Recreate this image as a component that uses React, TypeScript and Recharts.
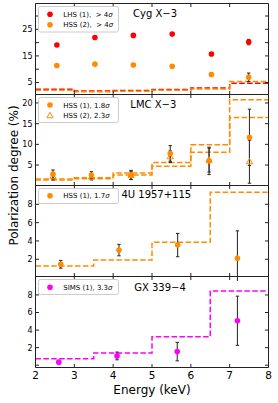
import React from 'react';
import { ComposedChart, Line, Scatter, ErrorBar, XAxis, YAxis } from 'recharts';

const FONT = "'DejaVu Sans', sans-serif";
const RED = '#ff0000';
const ORANGE = '#ff8c00';
const MAGENTA = '#ff00ff';
const ERR = '#333333';
const AXIS = '#222222';

const energyTicks = [2, 3, 4, 5, 6, 7, 8];
const binEdges6 = [2, 3, 4, 5, 6, 7, 8];
const binEdges4 = [2, 3.5, 5, 6.5, 8];

// Cyg X-3
const cygEnergy = [2.55, 3.53, 4.52, 5.52, 6.53, 7.49];
const cygLhsPd = [19.1, 21.9, 22.7, 23.2, 15.7, 20.2];
const cygLhsErr = [0.4, 0.4, 0.4, 0.4, 0.5, 1.0];
const cygHssPd = [11.4, 11.9, 11.6, 11.1, 8.0, 6.95];
const cygHssErr = [0.4, 0.4, 0.4, 0.4, 0.7, 1.6];
const cygLhsMdp = [2.5, 1.8, 2.0, 2.4, 2.9, 4.7];
const cygHssMdp = [2.1, 1.5, 1.7, 2.1, 2.6, 5.4];

// LMC X-3
const lmcEnergy = [2.45, 3.44, 4.46, 5.47, 6.47, 7.51];
const lmcHss1Pd = [2.8, 2.6, 2.6, 7.8, 6.0, 11.7];
const lmcHss1Err = [1.0, 0.8, 1.1, 1.9, 3.3, 6.8];
const lmcHss2Pd = [2.2, 2.1, 2.5, 7.0, 6.2, 5.8];
const lmcHss2Err = [0.8, 0.7, 1.0, 1.4, 2.9, 5.2];
const lmcHss1Mdp = [1.6, 1.9, 3.1, 5.6, 9.9, 20.8];
const lmcHss2Mdp = [1.4, 1.7, 2.6, 4.7, 8.1, 16.5];

// 4U 1957+115
const u4Energy = [2.65, 4.15, 5.66, 7.2];
const u4Pd = [1.45, 3.0, 3.55, 2.1];
const u4Err = [0.42, 0.62, 1.27, 3.0];
const u4Mdp = [1.27, 1.92, 3.85, 9.3];

// GX 339-4
const gxEnergy = [2.6, 4.1, 5.65, 7.2];
const gxPd = [0.35, 1.06, 1.55, 5.06];
const gxErr = [0.2, 0.44, 1.05, 2.8];
const gxMdp = [0.75, 1.4, 3.25, 8.45];

const titles = ['Cyg X−3', 'LMC X−3', '4U 1957+115', 'GX 339−4'];

const points = (e: number[], pd: number[], err: number[]) =>
  e.map((x, i) => ({ e: x, pd: pd[i], err: err[i] }));
const steps = (edges: number[], mdp: number[]) =>
  edges.map((x, i) => ({ e: x, mdp: mdp[Math.min(i, mdp.length - 1)] }));

const TM = 3; // tick margin
const TL = 3.5; // tick length

const makeLeftTick = (labels: number[]) => (p: any) => {
  const ax = p.x + TM;
  const v = p.payload.value;
  return (
    <g>
      <line x1={ax} x2={ax + TL} y1={p.y} y2={p.y} stroke={AXIS} strokeWidth={1} />
      {labels.includes(v) && (
        <text x={p.x} y={p.y} dy={2.9} textAnchor="end" fontSize={8} fontFamily={FONT} fill="#000">
          {v}
        </text>
      )}
    </g>
  );
};
const RightTick = (p: any) => {
  const ax = p.x - TM;
  return <line x1={ax - TL} x2={ax} y1={p.y} y2={p.y} stroke={AXIS} strokeWidth={1} />;
};
const TopTick = (p: any) => {
  const ay = p.y + TM;
  return <line x1={p.x} x2={p.x} y1={ay} y2={ay + TL} stroke={AXIS} strokeWidth={1} />;
};
const makeBottomTick = (showLabel: boolean) => (p: any) => {
  const ay = p.y - TM;
  return (
    <g>
      <line x1={p.x} x2={p.x} y1={ay} y2={ay - TL} stroke={AXIS} strokeWidth={1} />
      {showLabel && (
        <text x={p.x} y={ay + 11.5} textAnchor="middle" fontSize={10.5} fontFamily={FONT} fill="#000">
          {p.payload.value}
        </text>
      )}
    </g>
  );
};

const dotShape = (color: string) => (p: any) =>
  <circle cx={p.cx} cy={p.cy} r={2.8} fill={color} />;
const triShape = (color: string) => (p: any) => (
  <polygon
    points={`${p.cx},${p.cy - 3.4} ${p.cx - 3.1},${p.cy + 2.1} ${p.cx + 3.1},${p.cy + 2.1}`}
    fill="none"
    stroke={color}
    strokeWidth={1}
  />
);

const stepLine = (data: any[], color: string, key: string) => (
  <Line
    key={key}
    data={data}
    dataKey="mdp"
    type="stepAfter"
    stroke={color}
    strokeWidth={1.5}
    strokeDasharray="5.5 2.4"
    dot={false}
    activeDot={false}
    isAnimationActive={false}
  />
);

const scatter = (data: any[], shape: any, key: string) => (
  <Scatter key={key} data={data} dataKey="pd" shape={shape} isAnimationActive={false}>
    <ErrorBar dataKey="err" direction="y" stroke={ERR} strokeWidth={1.1} width={1.7} />
  </Scatter>
);

function Panel(props: {
  top: number;
  height: number;
  bottom: number;
  yDomain: [number, number];
  yTicks: number[];
  yLabels: number[];
  showX: boolean;
  children: React.ReactNode;
}) {
  const { top, height, bottom, yDomain, yTicks, yLabels, showX, children } = props;
  return (
    <div style={{ position: 'absolute', left: 0, top }}>
      <ComposedChart width={278} height={height} margin={{ top: 2.5, right: 8.5, bottom: bottom - 1, left: 0 }}>
        <XAxis
          type="number"
          dataKey="e"
          domain={[2, 8]}
          ticks={energyTicks}
          interval={0}
          allowDataOverflow
          height={1}
          tickSize={0}
          tickMargin={TM}
          tickLine={false}
          axisLine={{ stroke: AXIS, strokeWidth: 1 }}
          tick={makeBottomTick(showX)}
        />
        <XAxis
          xAxisId="t"
          orientation="top"
          type="number"
          dataKey="e"
          domain={[2, 8]}
          ticks={energyTicks}
          interval={0}
          allowDataOverflow
          height={1}
          tickSize={0}
          tickMargin={TM}
          tickLine={false}
          axisLine={{ stroke: AXIS, strokeWidth: 1 }}
          tick={TopTick}
        />
        <YAxis
          type="number"
          domain={yDomain}
          ticks={yTicks}
          interval={0}
          allowDataOverflow
          width={35.5}
          tickSize={0}
          tickMargin={TM}
          tickLine={false}
          axisLine={{ stroke: AXIS, strokeWidth: 1 }}
          tick={makeLeftTick(yLabels)}
        />
        <YAxis
          yAxisId="r"
          orientation="right"
          type="number"
          domain={yDomain}
          ticks={yTicks}
          interval={0}
          allowDataOverflow
          width={1}
          tickSize={0}
          tickMargin={TM}
          tickLine={false}
          axisLine={{ stroke: AXIS, strokeWidth: 1 }}
          tick={RightTick}
        />
        {children}
      </ComposedChart>
    </div>
  );
}

type LegendItem = { label: string; color: string; marker: 'circle' | 'triangle' };

function LegendBox({ y, h, items, rows }: { y: number; h: number; items: LegendItem[]; rows: number[] }) {
  return (
    <g>
      <rect x={38.5} y={y} width={80} height={h} rx={2} fill="#fff" fillOpacity={0.8} stroke="#cccccc" strokeWidth={1} />
      {items.map((it, i) => (
        <g key={i}>
          {it.marker === 'circle' ? (
            <circle cx={50} cy={rows[i]} r={2.8} fill={it.color} />
          ) : (
            <polygon
              points={`50,${rows[i] - 3.4} 46.9,${rows[i] + 2.1} 53.1,${rows[i] + 2.1}`}
              fill="none"
              stroke={it.color}
              strokeWidth={1}
            />
          )}
          <text x={63.3} y={rows[i] + 2.5} fontSize={7} fontFamily={FONT} fill="#000" style={{ whiteSpace: 'pre' }}>
            {it.label}
            <tspan fontStyle="italic">σ</tspan>
          </text>
        </g>
      ))}
    </g>
  );
}

export default function App() {
  return (
    <div style={{ position: 'absolute', left: 0, top: 0, width: 278, height: 403, background: '#fff' }}>
      <Panel top={0} height={99} bottom={4.5} yDomain={[0.49, 34.7]} yTicks={[5, 10, 15, 20, 25, 30]} yLabels={[5, 15, 25]} showX={false}>
        {stepLine(steps(binEdges6, cygLhsMdp), RED, 'm1')}
        {stepLine(steps(binEdges6, cygHssMdp), ORANGE, 'm2')}
        {scatter(points(cygEnergy, cygLhsPd, cygLhsErr), dotShape(RED), 's1')}
        {scatter(points(cygEnergy, cygHssPd, cygHssErr), dotShape(ORANGE), 's2')}
      </Panel>
      <Panel top={91} height={99} bottom={4.5} yDomain={[0.05, 22.05]} yTicks={[5, 10, 15, 20]} yLabels={[5, 10, 15, 20]} showX={false}>
        {stepLine(steps(binEdges6, lmcHss1Mdp), ORANGE, 'm1')}
        {stepLine(steps(binEdges6, lmcHss2Mdp), ORANGE, 'm2')}
        {scatter(points(lmcEnergy, lmcHss1Pd, lmcHss1Err), dotShape(ORANGE), 's1')}
        {scatter(points(lmcEnergy, lmcHss2Pd, lmcHss2Err), triShape(ORANGE), 's2')}
      </Panel>
      <Panel top={182} height={99} bottom={4.5} yDomain={[0.12, 10.05]} yTicks={[2, 4, 6, 8]} yLabels={[2, 4, 6, 8]} showX={false}>
        {stepLine(steps(binEdges4, u4Mdp), ORANGE, 'm1')}
        {scatter(points(u4Energy, u4Pd, u4Err), dotShape(ORANGE), 's1')}
      </Panel>
      <Panel top={273} height={130} bottom={35.5} yDomain={[-0.26, 10.1]} yTicks={[0, 2, 4, 6, 8]} yLabels={[2, 4, 6, 8]} showX={true}>
        {stepLine(steps(binEdges4, gxMdp), MAGENTA, 'm1')}
        {scatter(points(gxEnergy, gxPd, gxErr), dotShape(MAGENTA), 's1')}
      </Panel>
      <svg width={278} height={403} style={{ position: 'absolute', left: 0, top: 0, pointerEvents: 'none' }}>
        <LegendBox
          y={6.5}
          h={25.5}
          rows={[14.3, 24.7]}
          items={[
            { label: 'LHS (1),  > 4', color: RED, marker: 'circle' },
            { label: 'HSS (2),  > 4', color: ORANGE, marker: 'circle' },
          ]}
        />
        <LegendBox
          y={97.5}
          h={25}
          rows={[105, 115.7]}
          items={[
            { label: 'HSS (1), 1.8', color: ORANGE, marker: 'circle' },
            { label: 'HSS (2), 2.3', color: ORANGE, marker: 'triangle' },
          ]}
        />
        <LegendBox y={188.5} h={15} rows={[195.7]} items={[{ label: 'HSS (1), 1.7', color: ORANGE, marker: 'circle' }]} />
        <LegendBox y={279.5} h={15} rows={[287.3]} items={[{ label: 'SIMS (1), 3.3', color: MAGENTA, marker: 'circle' }]} />
        <text x={155} y={16.5} textAnchor="middle" fontSize={10} fontFamily={FONT} fill="#000">{titles[0]}</text>
        <text x={153.3} y={108} textAnchor="middle" fontSize={10} fontFamily={FONT} fill="#000">{titles[1]}</text>
        <text x={156.3} y={198.3} textAnchor="middle" fontSize={10} fontFamily={FONT} fill="#000">{titles[2]}</text>
        <text x={160} y={291} textAnchor="middle" fontSize={10} fontFamily={FONT} fill="#000">{titles[3]}</text>
        <text
          x={18}
          y={175.5}
          textAnchor="middle"
          fontSize={12}
          fontFamily={FONT}
          fill="#000"
          transform="rotate(-90 18 175.5)"
        >
          Polarization degree (%)
        </text>
        <text x={152} y={394} textAnchor="middle" fontSize={12} fontFamily={FONT} fill="#000">
          Energy (keV)
        </text>
      </svg>
    </div>
  );
}
